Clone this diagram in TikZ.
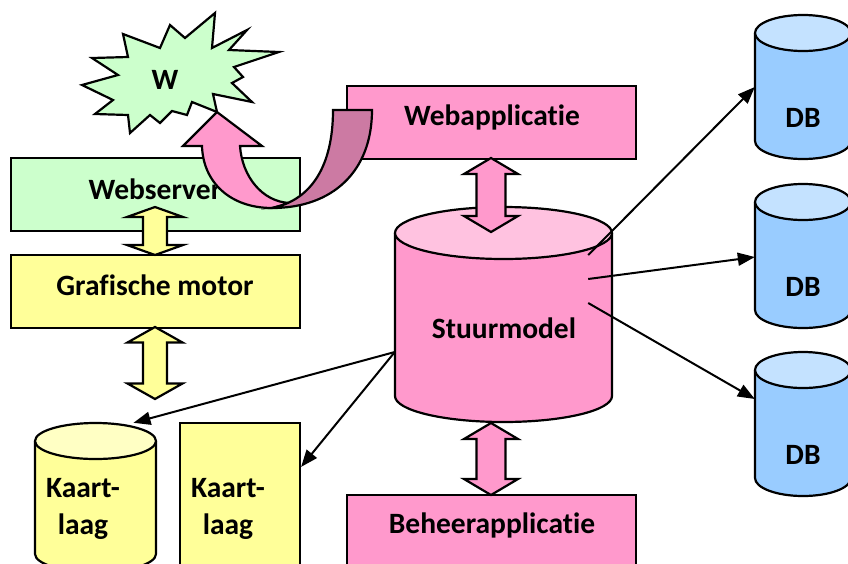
\documentclass[tikz,border=0pt]{standalone}
\usepackage{fontspec}
\setmainfont{Carlito}[Ligatures=NoCommon]
\usetikzlibrary{arrows.meta,calc}

\definecolor{webgreen}{HTML}{CCFFCC}
\definecolor{mapyellow}{HTML}{FFFF99}
\definecolor{mapyellowtop}{HTML}{FFFFC4}
\definecolor{apppink}{HTML}{FF99CC}
\definecolor{apppinktop}{HTML}{FFC2E0}
\definecolor{apppinkdark}{HTML}{CC7AA3}
\definecolor{dbblue}{HTML}{99CCFF}
\definecolor{dbbluetop}{HTML}{C4E2FF}

\tikzset{
  outline/.style={draw=black, line width=2.2pt, line join=miter},
  lbl/.style={font=\bfseries\fontsize{29.5}{37}\selectfont, inner sep=0pt, align=center},
  boxnode/.style={outline, rectangle, inner sep=0pt},
  area/.style={rectangle, inner sep=0pt, draw=none},
  link/.style={line width=2pt, -{Triangle[length=17pt,width=13pt]}},
}

% cylinder: centre x, top y, bottom y, x radius, y radius, body colour, lid colour
\newcommand\cylshape[7]{%
  \path[outline, fill=#6] ({#1-#4},{#2+#5}) -- ({#1-#4},{#3-#5})
    .. controls ({#1-#4},{#3-#5+0.5523*#5}) and ({#1-0.5523*#4},{#3}) .. ({#1},{#3})
    .. controls ({#1+0.5523*#4},{#3}) and ({#1+#4},{#3-#5+0.5523*#5}) .. ({#1+#4},{#3-#5})
    -- ({#1+#4},{#2+#5});
  \path[outline, fill=#7] ({#1},{#2+#5}) ellipse [x radius=#4, y radius=#5];
}

% vertical block arrow with two heads: centre x, top y, bottom y, shaft half width, head half width, head length, colour
\newcommand\dblarrow[7]{%
  \path[outline, fill=#7] (#1,#2) -- ({#1+#5},{#2+#6}) -- ({#1+#4},{#2+#6})
    -- ({#1+#4},{#3-#6}) -- ({#1+#5},{#3-#6}) -- (#1,#3) -- ({#1-#5},{#3-#6})
    -- ({#1-#4},{#3-#6}) -- ({#1-#4},{#2+#6}) -- ({#1-#5},{#2+#6}) -- cycle;
}

\begin{document}
\begin{tikzpicture}[x=1pt, y=-1pt]
\useasboundingbox (0,0) rectangle (848,563);

% ---------- left column ----------
\node[boxnode, fill=webgreen, minimum width=289pt, minimum height=73pt] (webserver) at (155.5,194.5) {};
\node[lbl] (webserver-t) at (155,189) {Webserver};

\node[boxnode, fill=mapyellow, minimum width=289pt, minimum height=73pt] (grafisch) at (155.5,291.5) {};
\node[lbl] (grafisch-t) at (155,285) {Grafische motor};

\cylshape{95.5}{423}{572}{60.5}{18}{mapyellow}{mapyellowtop}
\node[area, minimum width=121pt, minimum height=149pt] (kaartcyl) at (95.5,497.5) {};
\node[lbl] (kaartcyl-t) at (83,509) {Kaart-\\laag};

\node[boxnode, fill=mapyellow, minimum width=120pt, minimum height=150pt] (kaartrect) at (240,498) {};
\node[lbl] (kaartrect-t) at (228,509) {Kaart-\\laag};

% ---------- burst ----------
\path[outline, fill=webgreen] (215,13) -- (212,48) -- (247,30) -- (229,50) -- (279,52)
  -- (234,67) -- (243,77) -- (232,83) -- (252,102) -- (213,94) -- (217,112)
  -- (192,102) -- (187,115) -- (172,111) -- (160,123) -- (150,115) -- (130,133)
  -- (128,115) -- (95,114) -- (113,100) -- (82,85) -- (118,75) -- (92,58)
  -- (128,57) -- (123,34) -- (160,48) -- (170,25) -- (185,38) -- cycle;
\node[lbl] (w) at (165,80) {W};

% ---------- centre column ----------
\node[boxnode, fill=apppink, minimum width=289pt, minimum height=73pt] (webapp) at (491.5,122.5) {};
\node[lbl] (webapp-t) at (492,117) {Webapplicatie};

\cylshape{503.5}{207}{422}{108.5}{26}{apppink}{apppinktop}
\node[area, minimum width=217pt, minimum height=215pt] (stuur) at (503.5,314.5) {};
\node[lbl] (stuur-t) at (504,328) {Stuurmodel};

\node[boxnode, fill=apppink, minimum width=289pt, minimum height=75pt] (beheer) at (491.5,532.5) {};
\node[lbl] (beheer-t) at (492,525) {Beheerapplicatie};

% ---------- databases ----------
\foreach \n/\top in {1/15, 2/184, 3/352} {
  \cylshape{803}{\top}{\top+144}{48}{18}{dbblue}{dbbluetop}
  \node[area, minimum width=96pt, minimum height=144pt] (db\n) at (803,\top+72) {};
  \node[lbl] (db\n-t) at (803,\top+103) {DB};
}

% ---------- curved arrow from the web application to the web ----------
\path[outline, fill=apppink] (272,208) .. controls (230,208) and (203,182) .. (202,146)
  -- (183,146) -- (217,112) -- (262,146) -- (240,146)
  .. controls (242,176) and (262,202) .. (290,203) -- cycle;
\path[outline, fill=apppinkdark] (333,110) -- (372,110)
  .. controls (372,172) and (332,208) .. (272,208)
  .. controls (312,200) and (333,165) .. (333,110) -- cycle;

% ---------- block arrows ----------
\dblarrow{155}{207}{255}{12}{28}{10}{mapyellow}
\dblarrow{155}{327}{399}{12}{27.5}{15.5}{mapyellow}
\dblarrow{491}{158}{232}{14.5}{27}{16}{apppink}
\dblarrow{491}{423}{495}{14.5}{27}{16}{apppink}

% ---------- connectors ----------
\coordinate (sm-left) at (stuur.west |- 0,352);
\coordinate (sm-a) at ([xshift=-24pt]stuur.east |- 0,255);
\coordinate (sm-b) at ([xshift=-24pt]stuur.east |- 0,279);
\coordinate (sm-c) at ([xshift=-24pt]stuur.east |- 0,303);
\draw[link] (sm-a) -- (db1.west |- 0,87);
\draw[link] (sm-b) -- (db2.west |- 0,257);
\draw[link] (sm-c) -- (db3.west |- 0,399);
\draw[link] (sm-left) -- ([xshift=38pt]kaartcyl.north);
\draw[link] (sm-left) -- ([yshift=-45pt]kaartrect.north east);

\end{tikzpicture}
\end{document}
